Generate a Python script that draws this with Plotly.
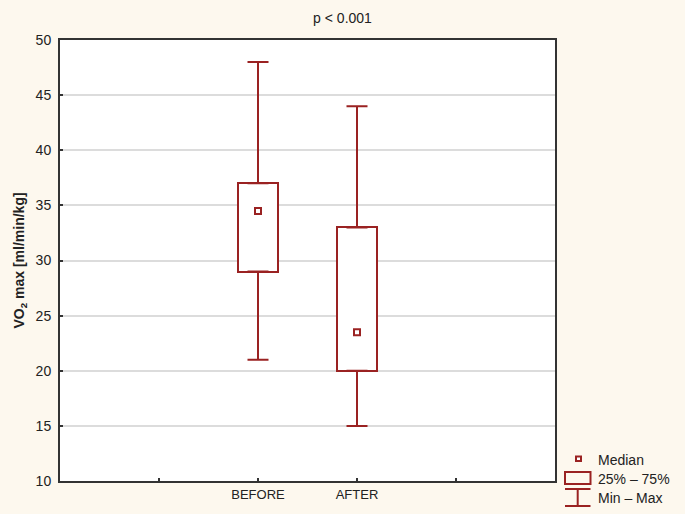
import plotly.graph_objects as go

# ---- data ----
groups = ["BEFORE", "AFTER"]
positions = [2, 3]
q1 = [29, 20]
median = [34.5, 23.5]
q3 = [37, 33]
vmin = [21, 15]
vmax = [48, 44]
title_text = "p < 0.001"
y_title = "<b>VO<sub>2</sub> max [ml/min/kg]</b>"

RED = "#9A2222"
BG = "#FDF8EE"
FONT = "Liberation Sans, Arial, sans-serif"

fig = go.Figure()

# boxes (25%-75%)
fig.add_trace(go.Bar(
    x=positions, base=q1, y=[b - a for a, b in zip(q1, q3)],
    width=0.4, marker=dict(color="white", line=dict(color=RED, width=2)),
    showlegend=False, hoverinfo="skip"))

# upper whiskers
fig.add_trace(go.Scatter(
    x=positions, y=q3, mode="markers", marker=dict(size=0.1, color=RED),
    error_y=dict(type="data", symmetric=False,
                 array=[b - a for a, b in zip(q3, vmax)], arrayminus=[0, 0],
                 color=RED, thickness=2, width=10.5),
    showlegend=False, hoverinfo="skip"))
# lower whiskers
fig.add_trace(go.Scatter(
    x=positions, y=q1, mode="markers", marker=dict(size=0.1, color=RED),
    error_y=dict(type="data", symmetric=False,
                 array=[0, 0], arrayminus=[a - b for a, b in zip(q1, vmin)],
                 color=RED, thickness=2, width=10.5),
    showlegend=False, hoverinfo="skip"))

# medians
fig.add_trace(go.Scatter(
    x=positions, y=median, mode="markers",
    marker=dict(symbol="square-open", size=6, color=RED, line=dict(width=2, color=RED)),
    showlegend=False, hoverinfo="skip"))

# ---- custom legend (paper coordinates) ----
L, R, T, B = 60, 555, 40, 481
def px(x):
    return (x - L) / (R - L)
def py(y):
    return (B - y) / (B - T)

shapes = []
# median icon
shapes.append(dict(type="rect", xref="paper", yref="paper",
                   x0=px(576), x1=px(581), y0=py(461), y1=py(456.5),
                   line=dict(color=RED, width=2), fillcolor="white"))
# box icon
shapes.append(dict(type="rect", xref="paper", yref="paper",
                   x0=px(565), x1=px(590.5), y0=py(484), y1=py(472),
                   line=dict(color=RED, width=2), fillcolor="rgba(0,0,0,0)"))
# min-max icon
shapes.append(dict(type="line", xref="paper", yref="paper",
                   x0=px(565), x1=px(590.5), y0=py(489), y1=py(489),
                   line=dict(color=RED, width=2)))
shapes.append(dict(type="line", xref="paper", yref="paper",
                   x0=px(577.7), x1=px(577.7), y0=py(489), y1=py(506),
                   line=dict(color=RED, width=2)))
shapes.append(dict(type="line", xref="paper", yref="paper",
                   x0=px(565), x1=px(590.5), y0=py(506), y1=py(506),
                   line=dict(color=RED, width=2)))

legend_labels = ["Median", "25% \u2013 75%", "Min \u2013 Max"]
legend_y = [459.5, 479, 498]
annotations = []
for lab, yy in zip(legend_labels, legend_y):
    annotations.append(dict(text=lab, xref="paper", yref="paper",
                            x=px(596), y=py(yy), xanchor="left", yanchor="middle",
                            showarrow=False, font=dict(size=14, color="#222", family=FONT)))

fig.update_layout(
    width=685, height=514,
    paper_bgcolor=BG, plot_bgcolor="white",
    margin=dict(l=L, r=685 - R, t=T, b=514 - B),
    font=dict(family=FONT, size=13, color="#222"),
    title=dict(text=title_text, x=0.5, xref="container", xanchor="center",
               y=1 - 18 / 514, yref="container", yanchor="middle",
               font=dict(size=14, color="#222", family=FONT)),
    shapes=shapes, annotations=annotations,
    showlegend=False, bargap=0,
)
fig.update_xaxes(range=[0, 5], tickvals=positions, ticktext=groups,
                 ticks="inside", ticklen=3, tickwidth=1.5, tickcolor="#333",
                 minor=dict(dtick=1, tick0=0, ticks="inside", ticklen=3, tickwidth=1.5,
                            tickcolor="#333", showgrid=False),
                 showgrid=False, zeroline=False,
                 showline=True, linecolor="#333", linewidth=2, mirror=True,
                 tickfont=dict(size=13, color="#222"))
fig.update_yaxes(range=[10, 50], dtick=5, tick0=10,
                 ticks="inside", ticklen=3, tickwidth=1.5, tickcolor="#333",
                 showgrid=True, gridcolor="#DCDCDC", gridwidth=2, zeroline=False,
                 showline=True, linecolor="#333", linewidth=2, mirror=True,
                 tickfont=dict(size=14, color="#222"), ticklabelstandoff=4,
                 title=dict(text=y_title, font=dict(size=14, color="#222", family=FONT), standoff=8))

fig.write_html("out.html", config={"displayModeBar": False},
               post_script="document.body.style.margin='0';")
